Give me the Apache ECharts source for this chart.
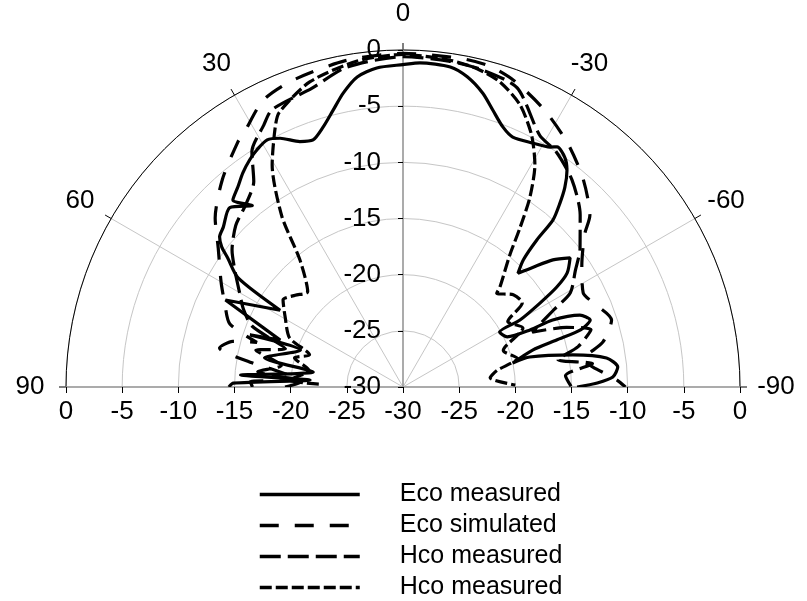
<!DOCTYPE html>
<html><head><meta charset="utf-8">
<script src="https://cdn.jsdelivr.net/npm/echarts@6/dist/echarts.min.js"></script>
<style>html,body{margin:0;padding:0;background:#fff}#c{width:807px;height:601px}</style>
</head><body><div id="c"></div>
<script>
// ---- data: [angle (deg), level (dB)] ----
const ecoMeasured = [[90,-14.5],[88.7,-14.9],[85.7,-21.7],[85.8,-15.5],[80.5,-21.9],[78.1,-17.4],[70.2,-20.3],[71.2,-15.6],[69.1,-18.3],[63.9,-12.4],[58,-17.1],[56.5,-12.4],[53.6,-10.6],[52.3,-9.6],[50.7,-8.9],[48.4,-8.6],[44,-7.8],[39.7,-9.0],[42.3,-7.5],[39.5,-6.9],[36.8,-6.2],[34,-5.6],[31.6,-5.2],[28.8,-4.9],[26.3,-5.3],[22.8,-6.3],[20,-6.6],[17.1,-5.8],[14.2,-4.6],[11.5,-3.3],[8.4,-2.1],[4.7,-1.5],[0,-1.3],[-3,-1.1],[-8.4,-1.2],[-11.7,-1.8],[-15.2,-2.9],[-18,-4.1],[-21,-5.2],[-23.7,-5.7],[-28,-5.4],[-31.5,-4.95],[-32.7,-4.6],[-35.2,-5.0],[-37.1,-5.8],[-39,-7.1],[-40.5,-8.5],[-41.9,-10.0],[-42.3,-12.3],[-43.4,-14.4],[-45.3,-15.6],[-47.3,-14.3],[-49.7,-12.5],[-52.3,-11.2],[-55.2,-12.2],[-57,-13.7],[-58.5,-15.7],[-60.2,-18.0],[-60.4,-20.1],[-64.3,-19.7],[-65.8,-17.6],[-65.9,-15.4],[-67.9,-13.0],[-70.3,-12.3],[-72.2,-13.4],[-73,-15.7],[-74.1,-18.0],[-77.7,-20.0],[-76.7,-18.4],[-79.3,-14.6],[-81.9,-11.7],[-84.7,-10.8],[-87.3,-11.3],[-88.8,-12.7],[-90,-14.5]];
const ecoSimulated = [[90,-16.6],[88,-16.4],[86,-20.8],[82,-18.0],[81,-16.5],[78,-13.3],[75,-14.3],[73,-16.4],[70,-13.6],[65,-12.5],[60,-11.3],[53,-9.4],[48,-7.5],[41,-5.5],[34,-3.7],[32,-3.3],[26,-1.6],[20,-1.0],[10,-0.5],[0,-0.3],[-10,-0.3],[-15,-0.4],[-20,-1.0],[-27,-2.3],[-34,-3.8],[-40.7,-5.45],[-47.4,-7.4],[-50,-8.9],[-56,-10.8],[-62.4,-11.9],[-66,-11.5],[-72.2,-10.5],[-77.3,-11.75],[-81.5,-13.8],[-84,-13.0],[-88,-11.0],[-90,-10.2]];
const hcoMeasuredA = [[90,-19.5],[87,-21],[84,-17],[80,-19],[76,-16.5],[72,-19],[68,-15.5],[64,-14.2],[60,-13.2],[55,-11.7],[51.3,-10.5],[46,-9.3],[41,-8.6],[36,-7.4],[32.7,-5.1],[28,-3.6],[25.3,-2.7],[17,-2.2],[10,-1.1],[0,-0.6],[-8,-0.7],[-14,-0.9],[-20.9,-1.5],[-28.5,-4.5],[-33,-5.0],[-39.2,-6.2],[-45.8,-8.0],[-52,-10],[-56,-11.5],[-60.6,-12.9],[-63,-15],[-67,-17.5],[-70,-14.5],[-73,-12.5],[-77,-14],[-80,-16],[-83,-13],[-86,-15.5],[-90,-15]];
const hcoMeasuredB = [[88,-22.5],[86.5,-19.9],[80,-21.5],[75,-20],[71,-21.2],[66.6,-19],[59.3,-17.8],[54,-16.8],[49.6,-17.4],[45,-18],[39,-15.4],[35.4,-11.4],[30.5,-7.05],[26.3,-4.3],[24.3,-3.2],[17,-1.6],[8,-0.7],[0,-0.4],[-8,-0.6],[-13,-0.9],[-17.6,-1.5],[-22.5,-2.8],[-27,-4.8],[-30.7,-7.0],[-33.8,-9.7],[-36.3,-12.4],[-39,-14.9],[-44.1,-17.6],[-45,-18.2],[-50.1,-17.2],[-54.8,-17.0],[-58,-19],[-63.8,-18.1],[-70,-20.5],[-76,-19.5],[-80,-21.5],[-84,-22.2],[-89,-20]];

const seriesIds = ['ecoM','ecoS','hcoA','hcoB'];
const seriesLabels = ['Eco measured','Eco simulated','Hco measured','Hco measured'];
const angleTickValues = [90,60,30,0,-30,-60,-90];
const angleTickLabels = ['90','60','30','0','-30','-60','-90'];
const radialTickLabels = ['-30','-25','-20','-15','-10','-5','0'];
const bottomTickLabels = ['0','-5','-10','-15','-20','-25','-30','-25','-20','-15','-10','-5','0'];

const FONT = 'Liberation Sans, Arial, sans-serif';
const dataSets = [ecoMeasured, ecoSimulated, hcoMeasuredA, hcoMeasuredB];
const dashes = ['solid', [19,16], [21,7], [12,4]];
const labelMap = {}; seriesIds.forEach((id,i)=>labelMap[id]=seriesLabels[i]);

const chart = echarts.init(document.getElementById('c'), null, {renderer:'canvas'});
const CENTER = [403, 387];
const hiddenAxis = {axisLine:{show:false}, axisTick:{show:false}, axisLabel:{show:false}, splitLine:{show:false}};
const option = {
  animation: false,
  backgroundColor: '#fff',
  polar: [
    {center: CENTER, radius: 337},
    {center: CENTER, radius: 373}
  ],
  angleAxis: [
    {polarIndex:0, type:'value', min:-90, max:90, interval:30, startAngle:0, endAngle:180, clockwise:false,
     axisLine:{show:true, lineStyle:{color:'#000', width:1}},
     axisTick:{show:true, length:7, lineStyle:{color:'#000', width:1}},
     axisLabel:{show:false},
     splitLine:{show:true, lineStyle:{color:'#c6c6c6', width:1}}},
    Object.assign({polarIndex:1, type:'value', min:-90, max:90, interval:30, startAngle:0, endAngle:180, clockwise:false}, hiddenAxis)
  ],
  radiusAxis: [
    {polarIndex:0, type:'value', min:-30, max:0, interval:5,
     axisLine:{show:false}, axisTick:{show:false}, axisLabel:{show:false},
     splitLine:{show:true, lineStyle:{color:'#c6c6c6', width:1}}},
    Object.assign({polarIndex:1, type:'value', min:0, max:1}, hiddenAxis)
  ],
  grid: [
    {left:66, top:50, width:674, height:337},
    {left:403, top:50, width:337, height:337}
  ],
  xAxis: [
    {gridIndex:0, type:'value', min:-30, max:30, interval:5,
     axisLine:{onZero:false, lineStyle:{color:'#999', width:1.5}},
     axisTick:{show:true, length:6, lineStyle:{color:'#000'}},
     axisLabel:{fontSize:26, fontFamily:FONT, color:'#000', margin:12, formatter:(v,i)=>bottomTickLabels[i]},
     splitLine:{show:false}},
    Object.assign({gridIndex:1, type:'value', min:0, max:1}, hiddenAxis)
  ],
  yAxis: [
    Object.assign({gridIndex:0, type:'value', min:-30, max:0}, hiddenAxis),
    {gridIndex:1, type:'value', min:-30, max:0, interval:5, position:'left',
     axisLine:{onZero:false, lineStyle:{color:'#999', width:1.5}},
     axisTick:{show:true, length:5, lineStyle:{color:'#000'}},
     axisLabel:{fontSize:26, fontFamily:FONT, color:'#000', margin:22, formatter:(v,i)=>radialTickLabels[i]},
     splitLine:{show:false}}
  ],
  legend: {
    orient:'vertical', left:258, top:482, height:130, padding:0, itemWidth:100, itemHeight:14, itemGap:6,
    data: seriesIds, formatter: n => labelMap[n],
    itemStyle:{color:'rgba(0,0,0,0)', borderColor:'rgba(0,0,0,0)', borderWidth:0},
    lineStyle:{width:3.5, color:'#000'},
    textStyle:{fontSize:25, fontFamily:FONT, color:'#000', padding:[0,0,0,35]}
  },
  series: [
    ...dataSets.map((d,i)=>({
      id: seriesIds[i], name: seriesIds[i], type:'line', coordinateSystem:'polar', polarIndex:0,
      data: d.map(p=>[p[1], p[0]]), symbol:'none', smooth:0.25,
      itemStyle:{color:'#000'},
      lineStyle:{color:'#000', width:3.2, type:dashes[i]}, z:5
    })),
    {type:'scatter', coordinateSystem:'polar', polarIndex:1, silent:true, z:6,
     data: angleTickValues.map(a=>[1,a]), symbolSize:2, itemStyle:{color:'#fff', opacity:1},
     label:{show:true, position:'inside', formatter:p=>angleTickLabels[p.dataIndex], fontSize:26, fontFamily:FONT, color:'#000', opacity:1, textBorderWidth:0}}
  ]
};
chart.setOption(option);
</script></body></html>
